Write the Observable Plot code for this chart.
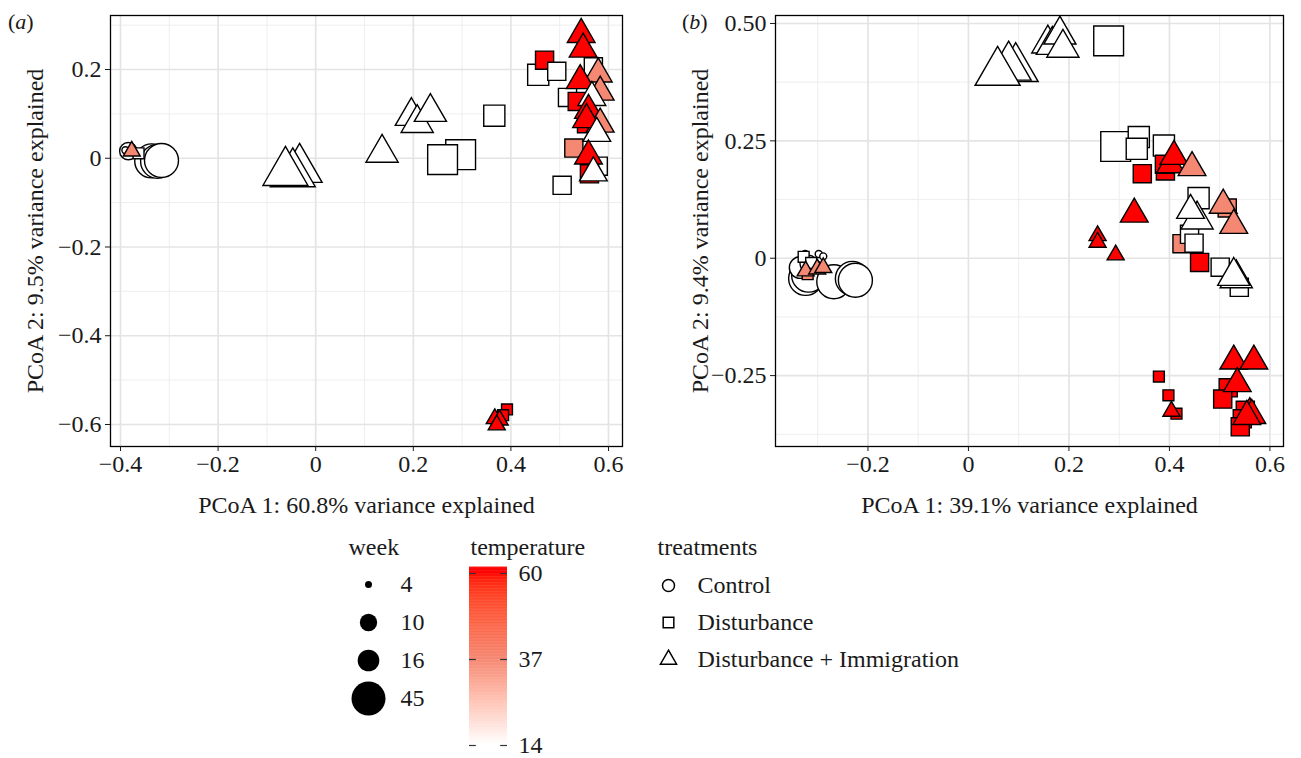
<!DOCTYPE html>
<html>
<head>
<meta charset="utf-8">
<script src="https://cdn.jsdelivr.net/npm/d3@7"></script>
<script src="https://cdn.jsdelivr.net/npm/@observablehq/plot@0.6"></script>
<style>
  html, body { margin: 0; padding: 0; background: #fff; }
  #root { position: relative; width: 1301px; height: 758px; background: #fff; font-family: "Liberation Serif", "Times New Roman", serif; color: #1a1a1a; overflow: hidden; }
  .abs { position: absolute; }
  .tag { font-size: 22px; line-height: 30px; }
</style>
</head>
<body>
<div id="root">
  <div class="abs tag" style="left:8px;top:7px;">(<i>a</i>)</div>
  <div class="abs tag" style="left:682px;top:7px;">(<i>b</i>)</div>
</div>
<script>
const FONT = '"Liberation Serif", "Times New Roman", serif';

// ---------- legend / scale values ----------
const treatments = ["Control", "Disturbance", "Disturbance + Immigration"];
const legendWeeks = [4, 10, 16, 45];
const tempTicks = [14, 37, 60];
const tempColors = ["#ffffff", "#f58872", "#ff0000"];

// ---------- panel (a) ----------
const aTitleX = "PCoA 1: 60.8% variance explained";
const aTitleY = "PCoA 2: 9.5% variance explained";
const aXTicks = [-0.4, -0.2, 0, 0.2, 0.4, 0.6];
const aXLabels = ["\u22120.4", "\u22120.2", "0", "0.2", "0.4", "0.6"];
const aYTicks = [-0.6, -0.4, -0.2, 0, 0.2];
const aYLabels = ["\u22120.6", "\u22120.4", "\u22120.2", "0", "0.2"];
const aXMinor = [-0.3, -0.1, 0.1, 0.3, 0.5];
const aYMinor = [-0.5, -0.3, -0.1, 0.1, 0.3];
const aXDomain = [-0.4205, 0.6287];
const aYDomain = [-0.6496, 0.3217];

// treatment codes: 0 Control, 1 Disturbance, 2 Disturbance + Immigration
const aX = [-0.336,-0.324,-0.316,-0.390,-0.384,-0.363,-0.377,-0.033,-0.047,-0.062,
  0.136,0.196,0.208,0.235,0.366,0.297,0.260,0.469,0.456,0.494,
  0.569,0.516,0.536,0.555,0.529,0.579,0.561,0.505,0.544,0.548,
  0.579,0.583,0.542,0.566,0.559,0.583,0.555,0.576,0.559,0.569,
  0.392,0.384,0.367,0.377,0.371];
const aY = [-0.006,-0.007,-0.005,0.018,0.016,0.011,0.016,-0.025,-0.035,-0.032,
  0.012,0.095,0.079,0.104,0.096,0.008,-0.003,0.221,0.188,0.196,
  0.206,0.137,0.128,0.078,0.023,-0.018,-0.035,-0.061,0.279,0.246,
  0.190,0.149,0.175,0.137,0.108,0.077,0.087,0.056,0.005,-0.033,
  -0.566,-0.579,-0.587,-0.590,-0.601];
const aWeek = [45,45,45,4,10,4,4,45,45,45,
  16,16,16,16,16,45,45,10,16,10,
  10,10,10,10,10,10,10,10,10,10,
  10,10,10,10,10,10,10,10,10,10,
  4,4,4,4,4];
const aTemp = [14,14,14,14,14,14,37,14,14,14,
  14,14,14,14,14,14,14,60,14,14,
  14,14,60,60,37,14,60,14,60,60,
  37,37,60,14,60,37,60,14,60,14,
  60,60,60,60,60];
const aTreat = [0,0,0,0,0,1,2,2,2,2,
  2,2,2,2,1,1,1,1,1,1,
  1,1,1,1,1,1,1,1,2,2,
  2,2,2,2,2,2,2,2,2,2,
  1,1,2,2,2];

// ---------- panel (b) ----------
const bTitleX = "PCoA 1: 39.1% variance explained";
const bTitleY = "PCoA 2: 9.4% variance explained";
const bXTicks = [-0.2, 0, 0.2, 0.4, 0.6];
const bXLabels = ["\u22120.2", "0", "0.2", "0.4", "0.6"];
const bYTicks = [-0.25, 0, 0.25, 0.5];
const bYLabels = ["\u22120.25", "0", "0.25", "0.50"];
const bXMinor = [-0.3, -0.1, 0.1, 0.3, 0.5];
const bYMinor = [-0.375, -0.125, 0.125, 0.375];
const bXDomain = [-0.384, 0.627];
const bYDomain = [-0.401, 0.517];

const bX = [0.094,0.080,0.058,0.158,0.167,0.182,0.188,0.279,
  0.293,0.339,0.335,0.389,0.402,0.409,0.445,0.346,0.392,0.390,0.330,0.257,0.257,0.293,
  0.458,0.442,0.455,0.515,0.507,0.528,0.425,0.440,0.449,0.460,0.501,0.533,0.528,0.539,
  0.379,0.398,0.414,0.404,0.528,0.568,0.517,0.506,0.535,0.551,0.545,0.541,0.560,0.564,0.554,
  -0.324,-0.318,-0.268,-0.231,-0.225,-0.335,-0.318,-0.325,-0.298,-0.289,
  -0.328,-0.313,-0.320,-0.324,-0.301,-0.289];
const bY = [0.404,0.407,0.396,0.457,0.454,0.476,0.448,0.463,
  0.238,0.258,0.233,0.240,0.199,0.217,0.193,0.180,0.186,0.200,0.094,0.048,0.034,0.007,
  0.128,0.102,0.082,0.107,0.113,0.070,0.031,0.051,0.032,-0.009,-0.019,-0.043,-0.038,-0.062,
  -0.252,-0.292,-0.331,-0.326,-0.219,-0.219,-0.276,-0.300,-0.267,-0.324,-0.342,-0.359,-0.331,-0.335,-0.337,
  -0.043,-0.036,-0.050,-0.043,-0.047,-0.020,-0.012,0.009,0.009,0.004,
  0.003,-0.010,-0.034,-0.027,-0.023,-0.020];
const bWeek = [45,45,45,16,16,16,16,45,
  45,16,16,16,10,10,10,10,10,10,10,4,4,4,
  16,10,16,10,10,10,10,10,10,10,10,16,16,10,
  4,4,4,4,10,10,10,10,10,10,10,10,10,10,10,
  45,45,45,45,45,16,10,4,4,4,
  4,4,4,4,4,4];
const bTemp = [14,14,14,14,14,14,14,14,
  14,14,14,14,60,60,37,60,60,60,60,60,60,60,
  14,14,14,37,37,37,37,14,14,60,14,14,14,14,
  60,60,60,60,60,60,60,60,60,60,60,60,60,60,60,
  14,14,14,14,14,14,14,14,14,14,
  14,14,37,37,37,37];
const bTreat = [2,2,2,2,2,2,2,1,
  1,1,1,1,2,2,2,1,1,1,2,2,2,2,
  1,2,2,1,2,2,1,1,1,1,1,2,2,1,
  1,1,1,2,2,2,1,1,2,1,1,1,2,2,2,
  0,0,0,0,0,0,0,0,0,0,
  1,1,1,2,2,2];

// ---------- ggplot-like filled symbols ----------
const symSquare = {
  draw(ctx, size) {
    const r = Math.sqrt(size / Math.PI);
    const h = (1.4 * r + 6) / 2;
    ctx.moveTo(-h, -h); ctx.lineTo(h, -h); ctx.lineTo(h, h); ctx.lineTo(-h, h); ctx.closePath();
  }
};
const symTriangle = {
  draw(ctx, size) {
    const r = Math.sqrt(size / Math.PI);
    const s = 2.07 * r + 9.8;
    const R = s / Math.sqrt(3);
    ctx.moveTo(0, -R); ctx.lineTo(s / 2, R / 2); ctx.lineTo(-s / 2, R / 2); ctx.closePath();
  }
};
const symbols = ["circle", symSquare, symTriangle];

const sizeOf = (w) => Math.sqrt((w - 4) / 41);
const rScale = {type: "linear", domain: [0, 1], range: [3.5, 17]};
const colorScale = {type: "linear", domain: tempTicks, range: tempColors, interpolate: "lab"};

function panel(o) {
  const data = o.xs.map((x, i) => ({x, y: o.ys[i], week: o.weeks[i], temp: o.temps[i], treat: o.treats[i]}));
  const xf = new Map(o.xTicks.map((t, i) => [t, o.xLabels[i]]));
  const yf = new Map(o.yTicks.map((t, i) => [t, o.yLabels[i]]));
  return Plot.plot({
    width: o.width, height: 520,
    marginTop: 15, marginBottom: 74, marginLeft: o.marginLeft, marginRight: o.marginRight,
    style: {fontFamily: FONT, fontSize: "24px", color: "#1a1a1a", background: "transparent", overflow: "visible"},
    x: {domain: o.xDomain},
    y: {domain: o.yDomain},
    r: rScale,
    color: colorScale,
    marks: [
      Plot.ruleX(o.xMinor, {stroke: "#ececec", strokeWidth: 0.9}),
      Plot.ruleY(o.yMinor, {stroke: "#ececec", strokeWidth: 0.9}),
      Plot.ruleX(o.xTicks, {stroke: "#e4e4e4", strokeWidth: 1.7}),
      Plot.ruleY(o.yTicks, {stroke: "#e4e4e4", strokeWidth: 1.7}),
      ...[0, 1, 2].map((t) => Plot.dot(data.filter((d) => d.treat === t), {
        x: "x", y: "y", r: (d) => sizeOf(d.week), fill: "temp",
        symbol: symbols[t], stroke: "#000", strokeWidth: 1.4
      })),
      Plot.frame({stroke: "#000", strokeWidth: 1.3}),
      Plot.axisX({ticks: o.xTicks, tickFormat: (d) => xf.get(d), tickSize: 5, tickPadding: 3, label: null}),
      Plot.axisY({ticks: o.yTicks, tickFormat: (d) => yf.get(d), tickSize: 5, tickPadding: 4, label: null}),
      Plot.text([o.titleX], {text: (d) => d, frameAnchor: "bottom", dy: 59, lineAnchor: "middle", textAnchor: "middle"}),
      Plot.text([o.titleY], {text: (d) => d, frameAnchor: "left", rotate: -90, dx: -75, lineAnchor: "middle", textAnchor: "middle"})
    ]
  });
}

function place(el, left, top) {
  const wrap = document.createElement("div");
  wrap.className = "abs";
  wrap.style.left = left + "px";
  wrap.style.top = top + "px";
  wrap.appendChild(el);
  document.getElementById("root").appendChild(wrap);
}

place(panel({
  xs: aX, ys: aY, weeks: aWeek, temps: aTemp, treats: aTreat,
  xDomain: aXDomain, yDomain: aYDomain, xTicks: aXTicks, xLabels: aXLabels,
  yTicks: aYTicks, yLabels: aYLabels, xMinor: aXMinor, yMinor: aYMinor,
  titleX: aTitleX, titleY: aTitleY, width: 630, marginLeft: 110, marginRight: 8
}), 0, 0);

place(panel({
  xs: bX, ys: bY, weeks: bWeek, temps: bTemp, treats: bTreat,
  xDomain: bXDomain, yDomain: bYDomain, xTicks: bXTicks, xLabels: bXLabels,
  yTicks: bYTicks, yLabels: bYLabels, xMinor: bXMinor, yMinor: bYMinor,
  titleX: bTitleX, titleY: bTitleY, width: 641, marginLeft: 115, marginRight: 18
}), 660, 0);

// ---------- legend: week (size) ----------
const legendStyle = {fontFamily: FONT, fontSize: "24px", color: "#1a1a1a", background: "transparent", overflow: "visible"};
place(Plot.plot({
  width: 110, height: 200, marginTop: 45, marginBottom: 3, marginLeft: 0, marginRight: 0,
  style: legendStyle,
  y: {type: "point", domain: legendWeeks, padding: 0.5, axis: null},
  r: rScale,
  marks: [
    Plot.text(["week"], {text: (d) => d, frameAnchor: "top-left", dx: 8, dy: -18, textAnchor: "start", lineAnchor: "middle"}),
    Plot.dot(legendWeeks, {y: (d) => d, r: (d) => sizeOf(d), fill: "#000", frameAnchor: "left", dx: 28}),
    Plot.text(legendWeeks, {y: (d) => d, text: (d) => String(d), frameAnchor: "left", dx: 60, textAnchor: "start", lineAnchor: "middle"})
  ]
}), 340, 520);

// ---------- legend: temperature (colour bar) ----------
const barStep = 0.2;
const barBins = d3.range(tempTicks[0], 61.6, barStep);
place(Plot.plot({
  width: 140, height: 240, marginTop: 53, marginBottom: 15, marginLeft: 9, marginRight: 93,
  style: legendStyle,
  x: {domain: [0, 1], axis: null},
  y: {domain: [14, 60], axis: null},
  color: colorScale,
  marks: [
    Plot.text(["temperature"], {text: (d) => d, frameAnchor: "top-left", dx: 1, dy: -26, textAnchor: "start", lineAnchor: "middle"}),
    Plot.rect(barBins, {x1: 0, x2: 1, y1: (d) => d, y2: (d) => d + barStep * 1.6, fill: (d) => Math.min(d, 60)}),
    Plot.ruleY(tempTicks, {x1: 0, x2: 0.18, stroke: "#333", strokeWidth: 1.2}),
    Plot.ruleY(tempTicks, {x1: 0.82, x2: 1, stroke: "#333", strokeWidth: 1.2}),
    Plot.text(tempTicks, {y: (d) => d, text: (d) => String(d), frameAnchor: "right", dx: 11, textAnchor: "start", lineAnchor: "middle"})
  ]
}), 460, 520);

// ---------- legend: treatments (shape) ----------
place(Plot.plot({
  width: 360, height: 170, marginTop: 46, marginBottom: 11.5, marginLeft: 0, marginRight: 0,
  style: legendStyle,
  y: {type: "point", domain: treatments, padding: 0.5, axis: null},
  marks: [
    Plot.text(["treatments"], {text: (d) => d, frameAnchor: "top-left", dx: 17, dy: -19, textAnchor: "start", lineAnchor: "middle"}),
    Plot.dot(treatments, {y: (d) => d, symbol: (d) => ["circle", "square", "triangle"][treatments.indexOf(d)], r: 6, fill: "none", stroke: "#000", strokeWidth: 1.5, frameAnchor: "left", dx: 28}),
    Plot.text(treatments, {y: (d) => d, text: (d) => d, frameAnchor: "left", dx: 57, textAnchor: "start", lineAnchor: "middle"})
  ]
}), 640, 520);
</script>
</body>
</html>
